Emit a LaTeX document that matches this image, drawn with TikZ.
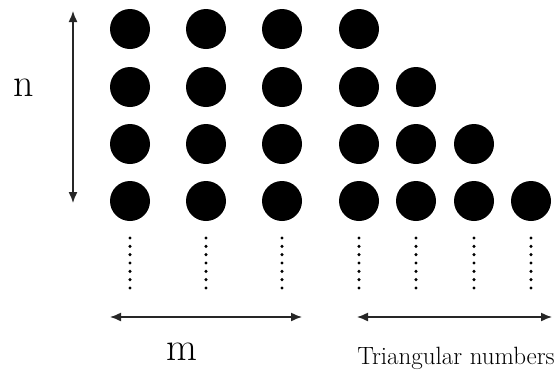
\documentclass[tikz,border=0pt]{standalone}
\usepackage{tikz}
\usetikzlibrary{positioning,arrows.meta}

\begin{document}
\begin{tikzpicture}[
  x=1pt, y=-1pt, >={Latex[length=11pt,width=9pt]},
  dot/.style={circle, fill=black, inner sep=0pt, minimum size=40pt},
  dots/.style={line width=3.4pt, line cap=round, dash pattern=on 0pt off 8.33pt},
  span/.style={<->, line width=1.4pt, draw=black!85},
  big/.style={font=\fontsize{40}{40}\selectfont, inner sep=0pt},
]
\useasboundingbox (0,0) rectangle (557,373);

% square part: m columns, n rows
\foreach \c/\x in {1/130,2/206,3/282}
  \foreach \r/\y in {1/29,2/87,3/144,4/201}
    \node[dot] (d\c\r) at (\x,\y) {};

% triangular part
\foreach \r/\y in {1/29,2/87,3/144,4/201}
  \node[dot] (d4\r) at (359,\y) {};
\foreach \r/\y in {2/87,3/144,4/201}
  \node[dot] (d5\r) at (416,\y) {};
\foreach \r/\y in {3/144,4/201}
  \node[dot] (d6\r) at (474,\y) {};
\node[dot] (d74) at (531,201) {};

% continuation dots below each column
\foreach \x in {130,206,282,359,416,474,531}
  \draw[dots] (\x,238) -- (\x,288.5);

% n
\coordinate (nTop) at (73,11);
\coordinate (nBot) at (73,203);
\draw[span] (nTop) -- (nBot);
\node[big] (n) at (24,88) {n};

% m
\coordinate (mL) at (110,317);
\coordinate (mR) at (302,317);
\draw[span] (mL) -- (mR);
\node[big] (m) at (182,352) {m};

% triangular numbers
\coordinate (tL) at (357,317);
\coordinate (tR) at (552,317);
\draw[span] (tL) -- (tR);
\node[font=\fontsize{25}{27}\selectfont, inner sep=0pt] (tri) at (456,358) {Triangular numbers};
\end{tikzpicture}
\end{document}
